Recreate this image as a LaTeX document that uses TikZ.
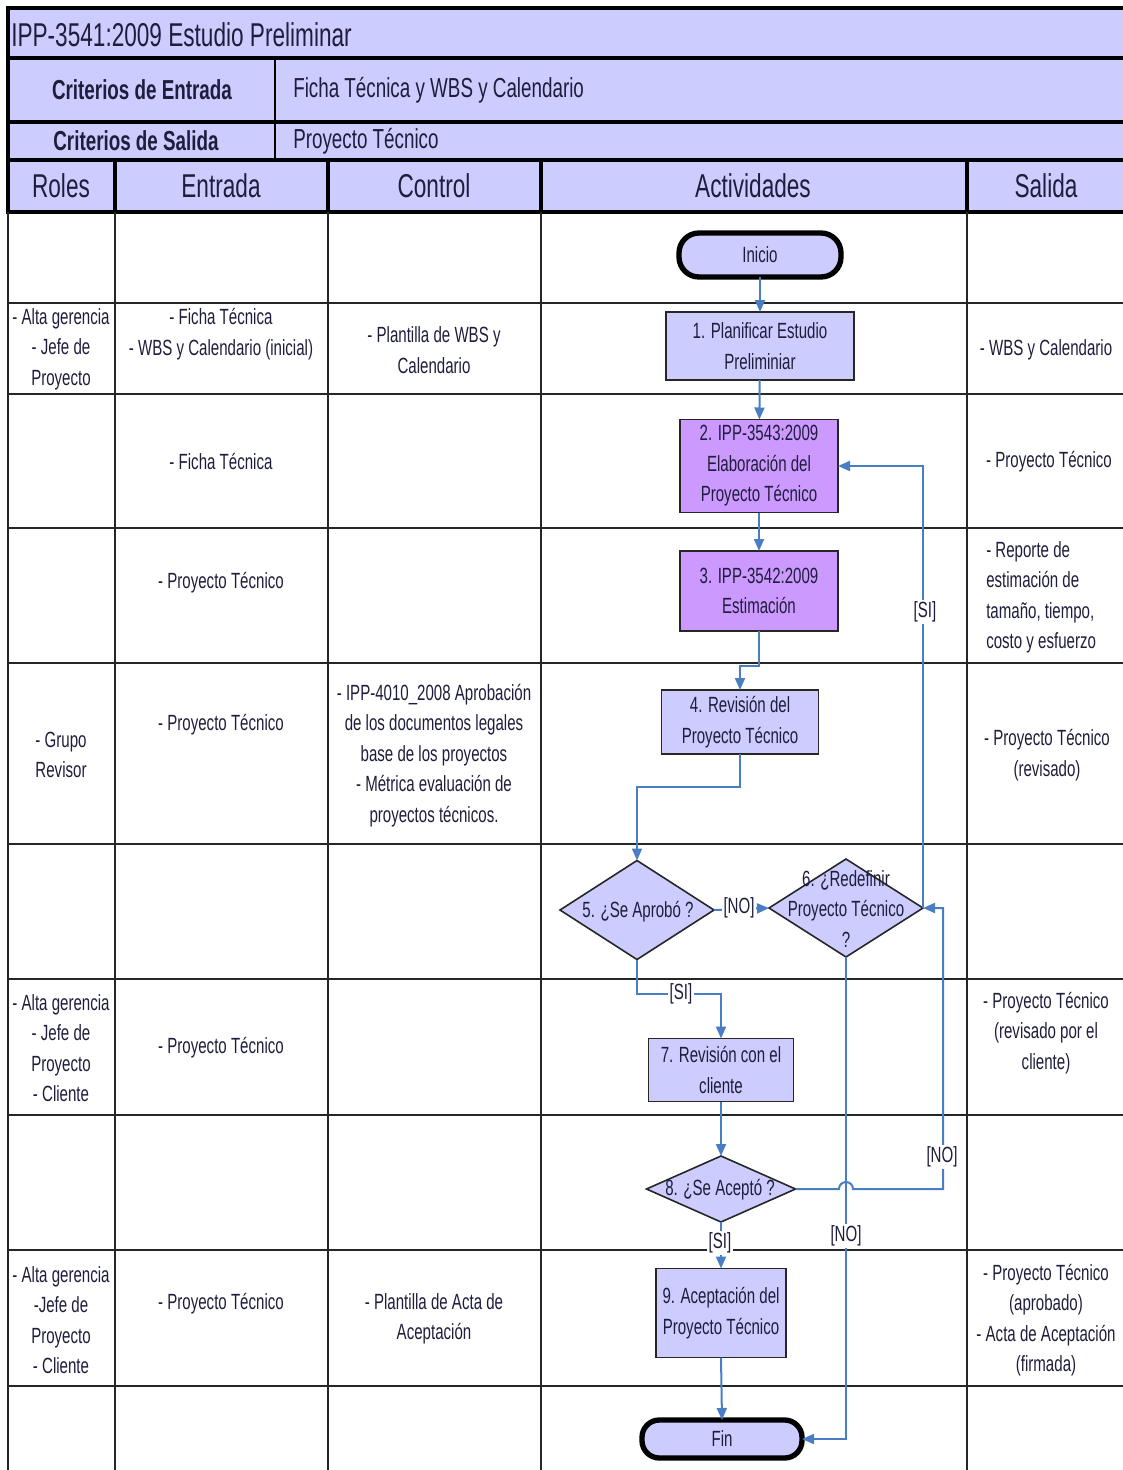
\documentclass[tikz,border=0pt]{standalone}
\usepackage{fontspec}
\setmainfont{Liberation Sans}[FakeStretch=0.685]
\usetikzlibrary{shapes.geometric,arrows.meta}
\definecolor{lav}{HTML}{CCCCFF}
\definecolor{purp}{HTML}{CC99FF}
\definecolor{flow}{HTML}{4A7EC4}
\definecolor{ink}{HTML}{1E1E3C}
\tikzset{
  txt/.style={font=\fontsize{16.5}{22.9}\selectfont, text=ink, align=center, inner sep=0pt},
  hdr/.style={font=\fontsize{24.75}{28}\selectfont, text=ink, inner sep=0pt},
  crit/.style={font=\bfseries\fontsize{20.6}{24}\selectfont, text=ink, inner sep=0pt},
  critv/.style={font=\fontsize{20.6}{24}\selectfont, text=ink, inner sep=0pt},
  thickrule/.style={line width=3pt, black},
  midrule/.style={line width=1.8pt, black},
  thinrule/.style={line width=1.3pt, black!85},
  actbox/.style={rectangle, draw=black!85, line width=1.2pt, fill=lav, txt, outer sep=0pt},
  purpbox/.style={actbox, fill=purp},
  term/.style={rectangle, draw=black, line width=4pt, fill=lav, txt, outer sep=0pt},
  dia/.style={diamond, draw=black!85, line width=1.2pt, fill=lav, inner sep=0pt, outer sep=0pt, aspect=1.5},
  flowline/.style={draw=flow, line width=1.5pt, -{Triangle[length=9pt,width=7.5pt]}},
  lbl/.style={txt, fill=white, inner sep=1.5pt}
}
\begin{document}
\begin{tikzpicture}[x=0.75pt,y=-0.75pt]
\useasboundingbox (0,0) rectangle (1123,1470);
% ---------- header block ----------
\fill[lav] (8,8) rectangle (1123,212);
\draw[thickrule] (1123,8) -- (8,8) -- (8,212) -- (1123,212);
\draw[thickrule] (8,58) -- (1123,58);
\draw[thickrule] (8,122) -- (1123,122);
\draw[thickrule] (8,160) -- (1123,160);
\draw[midrule] (275,58) -- (275,160);
\foreach \xx in {115,328,541,967} \draw[thickrule] (\xx,160) -- (\xx,212);
\node[hdr, anchor=west] (title) at (11,35) {IPP-3541:2009 Estudio Preliminar};
\node[crit] (ce) at (142,90) {Criterios de Entrada};
\node[critv, anchor=west] (cev) at (293,90) {Ficha Técnica y WBS y Calendario};
\node[crit] (cs) at (136,141) {Criterios de Salida};
\node[critv, anchor=west] (csv) at (293,141) {Proyecto Técnico};
\node[hdr] (hroles) at (61,186) {Roles};
\node[hdr] (hent) at (221,186) {Entrada};
\node[hdr] (hctl) at (434,186) {Control};
\node[hdr] (hact) at (753,186) {Actividades};
\node[hdr] (hsal) at (1046,186) {Salida};
% ---------- body grid ----------
\foreach \xx in {8,115,328,541,967} \draw[thinrule] (\xx,212) -- (\xx,1470);
\foreach \yy in {303,394,528,663,844,979,1115,1250,1386} \draw[thinrule] (8,\yy) -- (1123,\yy);
% ---------- cell texts ----------
\node[txt] (r1) at (61,349) {- Alta gerencia\\- Jefe de\\Proyecto};
\node[txt] (e1) at (221,334) {- Ficha Técnica\\- WBS y Calendario (inicial)};
\node[txt] (c1) at (434,350) {- Plantilla de WBS y\\Calendario};
\node[txt] (s1) at (1046,350) {- WBS y Calendario};
\node[txt] (e2) at (221,462) {- Ficha Técnica};
\node[txt] (s2) at (1049,462) {- Proyecto Técnico};
\node[txt] (e3) at (221,583) {- Proyecto Técnico};
\node[txt, align=left, anchor=west] (s3) at (986,597.5) {- Reporte de\\estimación de\\tamaño, tiempo,\\costo y esfuerzo};
\node[txt] (r4) at (61,755) {- Grupo\\Revisor};
\node[txt] (e4) at (221,725) {- Proyecto Técnico};
\node[txt] (c4) at (434,755.5) {- IPP-4010\_2008 Aprobación\\de los documentos legales\\base de los proyectos\\- Métrica evaluación de\\proyectos técnicos.};
\node[txt] (s4) at (1047,755) {- Proyecto Técnico\\(revisado)};
\node[txt] (r7) at (61,1048) {- Alta gerencia\\- Jefe de\\Proyecto\\- Cliente};
\node[txt] (e7) at (221,1048) {- Proyecto Técnico};
\node[txt] (s7) at (1046,1033) {- Proyecto Técnico\\(revisado por el\\cliente)};
\node[txt] (r9) at (61,1320) {- Alta gerencia\\-Jefe de\\Proyecto\\- Cliente};
\node[txt] (e9) at (221,1304) {- Proyecto Técnico};
\node[txt] (c9) at (434,1319) {- Plantilla de Acta de\\Aceptación};
\node[txt] (s9) at (1046,1320) {- Proyecto Técnico\\(aprobado)\\- Acta de Aceptación\\(firmada)};
% ---------- flow nodes ----------
\node[term, minimum width=121.5pt, minimum height=33pt, rounded corners=15pt] (ini) at (760,255) {Inicio};
\node[actbox, minimum width=141pt, minimum height=51pt] (n1) at (760,346) {1. Planificar Estudio\\Preliminiar};
\node[purpbox, minimum width=118.5pt, minimum height=69.75pt] (n2) at (759,466) {2. IPP-3543:2009\\Elaboración del\\Proyecto Técnico};
\node[purpbox, minimum width=118.5pt, minimum height=60pt] (n3) at (759,591) {3. IPP-3542:2009\\Estimación};
\node[actbox, minimum width=117.75pt, minimum height=48pt] (n4) at (740,722) {4. Revisión del\\Proyecto Técnico};
\node[dia, minimum width=115.5pt, minimum height=74.25pt] (d5) at (637,910) {};
\node[txt] (t5) at (638,912) {5. ¿Se Aprobó ?};
\node[dia, minimum width=115.5pt, minimum height=73.5pt] (d6) at (846,908) {};
\node[txt] (t6) at (846,909) {6. ¿Redefinir\\Proyecto Técnico\\?};
\node[actbox, minimum width=108.75pt, minimum height=47.25pt] (n7) at (721,1070) {7. Revisión con el\\cliente};
\node[dia, minimum width=111.75pt, minimum height=49.5pt] (d8) at (721,1189) {};
\node[txt] (t8) at (720,1190) {8. ¿Se Aceptó ?};
\node[actbox, minimum width=97.5pt, minimum height=66.75pt] (n9) at (721,1313) {9. Aceptación del\\Proyecto Técnico};
\node[term, minimum width=120pt, minimum height=28.5pt, rounded corners=13pt] (fin) at (722,1439) {Fin};
% ---------- connectors ----------
\coordinate (j34) at (740,666);
\coordinate (j45) at (637,787);
\coordinate (j57) at (721,994);
\coordinate (hopa) at (839,1189);
\coordinate (j86) at (943,1189);
\draw[flowline] (ini) -- (n1);
\draw[flowline] (n1) -- (n2);
\draw[flowline] (n2) -- (n3);
\draw[flowline] (n3.south) |- (j34) -- (n4.north);
\draw[flowline] (n4.south) |- (j45) -- (d5.north);
\draw[flowline] (d5.east) -- (d6.west);
\draw[flowline] (d5.south) |- (j57) -- (n7.north);
\draw[flowline] (d6.east) -- (d6.east |- n2.east) -- (n2.east);
\draw[flowline] (d8.east) -- (hopa) arc[start angle=180, end angle=0, radius=5.25pt] -- (j86) |- (d6.east);
\draw[flowline] (d6.south) |- (fin.east);
\draw[flowline] (n7.south) -- (d8.north);
\draw[flowline] (d8.south) -- (n9.north);
\draw[flowline] (n9.south) -- (fin.north);
% ---------- connector labels ----------
\node[lbl] (lno1) at (739,908) {[NO]};
\node[lbl] (lsi1) at (681,994) {[SI]};
\node[lbl] (lsi2) at (925,612) {[SI]};
\node[lbl] (lno2) at (942,1157) {[NO]};
\node[lbl] (lno3) at (846,1236) {[NO]};
\node[lbl] (lsi3) at (720,1243) {[SI]};
\end{tikzpicture}
\end{document}
